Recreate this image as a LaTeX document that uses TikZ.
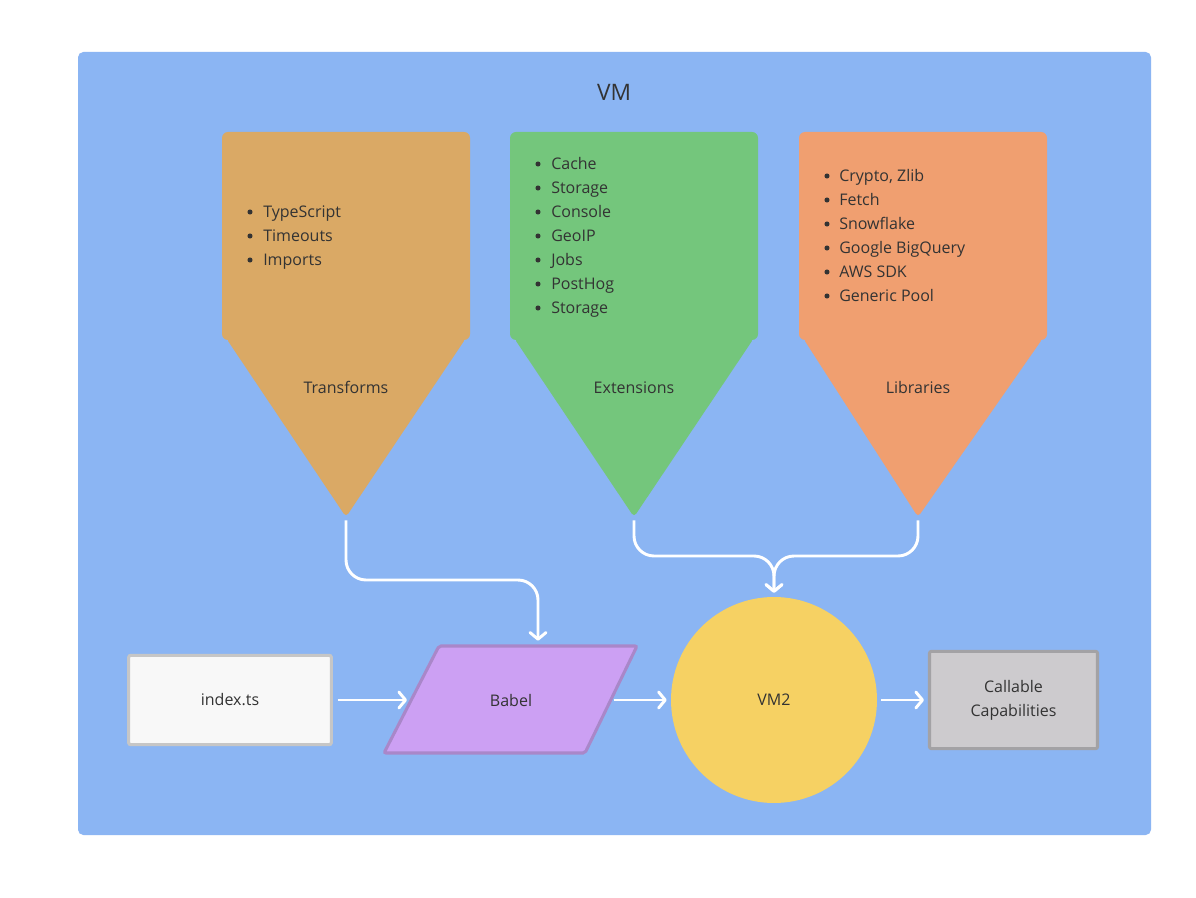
\documentclass[tikz,border=0pt]{standalone}
\usepackage{fontspec}
\setmainfont{Open Sans}
\usetikzlibrary{arrows.meta}
\definecolor{bgblue}{HTML}{8BB5F3}
\definecolor{trcol}{HTML}{DAA965}
\definecolor{excol}{HTML}{74C67C}
\definecolor{libcol}{HTML}{F09F70}
\definecolor{txtcol}{HTML}{333333}
\definecolor{idxfill}{HTML}{F8F8F8}
\definecolor{idxline}{HTML}{C6C6C6}
\definecolor{babfill}{HTML}{CCA0F3}
\definecolor{babline}{HTML}{A987C9}
\definecolor{vmfill}{HTML}{F6D163}
\definecolor{capfill}{HTML}{CDCBCE}
\definecolor{capline}{HTML}{A3A2A5}
\begin{document}
\begin{tikzpicture}[x=0.75pt,y=-0.75pt,
  lbl/.style={text=txtcol,font=\fontsize{12}{14}\selectfont,inner sep=0pt,anchor=base},
  item/.style={text=txtcol,font=\fontsize{12}{14}\selectfont,inner sep=0pt,anchor=base west},
  bul/.style={fill=txtcol},
  conn/.style={draw=white,line width=2.2pt,rounded corners=15pt,
    -{Straight Barb[length=5pt,width=12pt,round]}},
  flat/.style={draw=white,line width=2.2pt,
    -{Straight Barb[length=5pt,width=12pt,round]}},
  boxnode/.style={line width=2.3pt,rounded corners=1.5pt,text=txtcol,
    font=\fontsize{12}{18}\selectfont,align=center,inner sep=0pt}
]
\useasboundingbox (0,0) rectangle (1196,898);
\fill[white] (0,0) rectangle (1196,898);
\fill[bgblue,rounded corners=4pt] (78,52) rectangle (1151,835);
\node[text=txtcol,font=\fontsize{17}{20}\selectfont,inner sep=0pt,anchor=base] (title) at (614,101) {VM};

% Transforms
\fill[trcol,rounded corners=4.5pt] (222,132) rectangle (470,340);
\fill[trcol,rounded corners=3pt] (226,338) -- (466,338) -- (346,517) -- cycle;
\coordinate (tTip) at (346,517);
\node[lbl] (tLabel) at (346,394) {Transforms};
\foreach \t [count=\i] in {TypeScript,Timeouts,Imports}{
  \fill[bul] (250,188+24*\i) circle (1.9pt);
  \node[item] (ti\i) at (263,194+24*\i) {\t};
}

% Extensions
\fill[excol,rounded corners=4.5pt] (510,132) rectangle (758,340);
\fill[excol,rounded corners=3pt] (514,338) -- (754,338) -- (634,517) -- cycle;
\coordinate (eTip) at (634,517);
\node[lbl] (eLabel) at (634,394) {Extensions};
\foreach \t [count=\i] in {Cache,Storage,Console,GeoIP,Jobs,PostHog,Storage}{
  \fill[bul] (538,140+24*\i) circle (1.9pt);
  \node[item] (ei\i) at (551,146+24*\i) {\t};
}

% Libraries
\fill[libcol,rounded corners=4.5pt] (799,132) rectangle (1047,340);
\fill[libcol,rounded corners=3pt] (803,338) -- (1043,338) -- (918,517) -- cycle;
\coordinate (lTip) at (918,517);
\node[lbl] (lLabel) at (918,394) {Libraries};
\foreach \t [count=\i] in {{Crypto, Zlib},Fetch,Snowflake,Google BigQuery,AWS SDK,Generic Pool}{
  \fill[bul] (827,152+24*\i) circle (1.9pt);
  \node[item] (li\i) at (839,158+24*\i) {\t};
}

% bottom row
\node[boxnode,draw=idxline,fill=idxfill,minimum width=152pt,minimum height=67pt] (index) at (230,700) {index.ts};
\filldraw[fill=babfill,draw=babline,line width=2.3pt,rounded corners=1.5pt]
  (439,646) -- (637,646) -- (585,753) -- (384,753) -- cycle;
\node[text=txtcol,font=\fontsize{12}{14}\selectfont,inner sep=0pt] (babel) at (511,700) {Babel};
\coordinate (babL) at (411,700);
\coordinate (babR) at (611,700);
\coordinate (babT) at (538,646);
\node[circle,fill=vmfill,minimum size=154.5pt,inner sep=0pt,text=txtcol,font=\fontsize{12}{14}\selectfont] (vm2) at (774,700) {VM2};
\node[boxnode,draw=capline,fill=capfill,minimum width=126pt,minimum height=73pt] (cap) at (1013.5,700) {Callable\\Capabilities};

% connectors
\draw[flat,shorten <=3.5pt,shorten >=3pt] (index.east) -- (babL);
\draw[flat,shorten <=2pt,shorten >=3pt] (babR) -- (vm2.west);
\draw[flat,shorten <=3pt,shorten >=3pt] (vm2.east) -- (cap.west);
\draw[conn,shorten <=2.5pt,shorten >=4pt] (tTip) -- (346,580) -- (538,580) -- (babT);
\draw[conn,shorten <=2.5pt,shorten >=3pt] (eTip) -- (634,556) -- (774,556) -- (vm2.north);
\draw[conn,shorten <=2.5pt,shorten >=3pt] (lTip) -- (918,556) -- (774,556) -- (vm2.north);
\end{tikzpicture}
\end{document}
